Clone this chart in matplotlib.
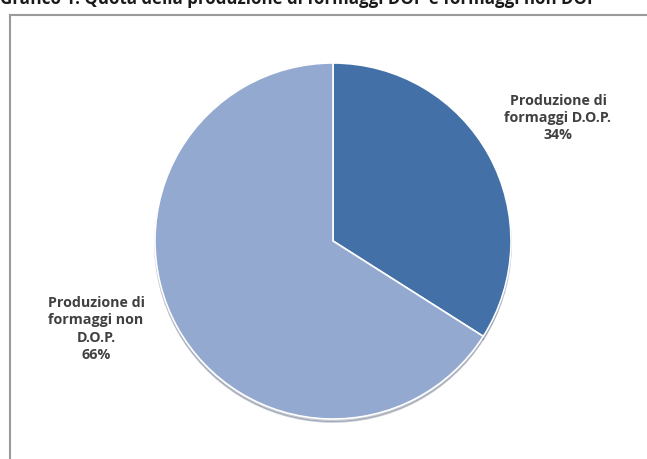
import matplotlib.pyplot as plt
from matplotlib.lines import Line2D

title = "Grafico 1: Quota della produzione di formaggi DOP e formaggi non DOP"
labels = ["Produzione di\nformaggi D.O.P.\n34%", "Produzione di\nformaggi non\nD.O.P.\n66%"]
shares = [34, 66]
colors = ["#4470a8", "#93a9d0"]

W, H = 647, 459
cx, cy, r = 333, 241, 178  # pie centre / radius in pixels (from top-left)

fig = plt.figure(figsize=(W / 100, H / 100), dpi=100)
ax = fig.add_axes([0, 0, 1, 1])

wedges, _ = ax.pie(shares, colors=colors, startangle=90, counterclock=False,
                   radius=1, wedgeprops=dict(edgecolor="white", linewidth=1.2),
                   shadow=dict(ox=0.0, oy=-0.012, shade=0.4, alpha=0.35))
# pie() resets the limits, so set them afterwards
ax.set_xlim(-cx / r, (W - cx) / r)
ax.set_ylim(-(H - cy) / r, cy / r)
ax.axis("off")

def px(x, y):
    return (x - cx) / r, (cy - y) / r

ax.text(*px(558, 118), labels[0], ha="center", va="center", fontsize=10.3,
        fontweight="bold", color="#404040", family="Open Sans", linespacing=1.3)
ax.text(*px(96, 329), labels[1], ha="center", va="center", fontsize=10.3,
        fontweight="bold", color="#404040", family="Open Sans", linespacing=1.3)

# chart frame (left and top edges visible)
fig.add_artist(Line2D([10 / W, 10 / W], [0, 1 - 15 / H], color="#9a9a9a", lw=1.5))
fig.add_artist(Line2D([10 / W, 1], [1 - 15 / H, 1 - 15 / H], color="#9a9a9a", lw=1.5))

fig.text(0, 1 - 3.5 / H, title, ha="left", va="baseline", fontsize=12.2,
         fontweight="bold", color="#1a1a1a", family="Open Sans")

fig.savefig("out.png", dpi=100)
